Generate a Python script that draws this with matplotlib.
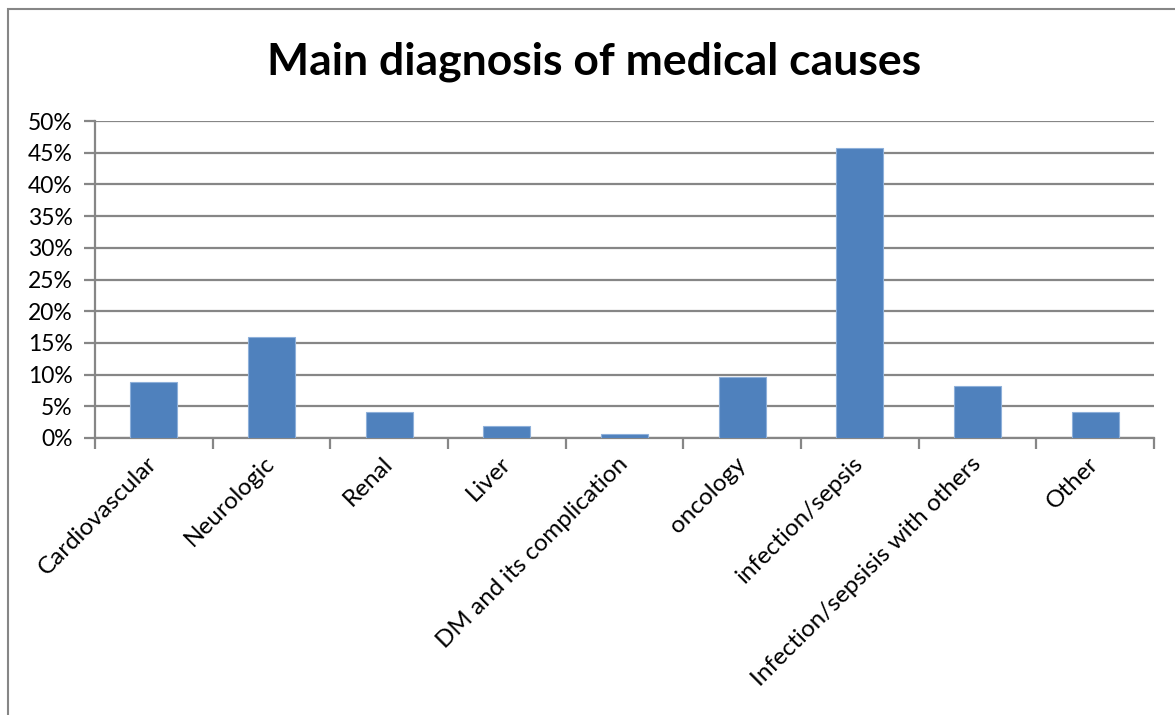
import matplotlib
matplotlib.use("Agg")
import matplotlib.pyplot as plt
from matplotlib.patches import Rectangle
from matplotlib.ticker import MultipleLocator, FuncFormatter

plt.rcParams["font.family"] = ["Lato", "DejaVu Sans"]

# Data (percent)
categories = [
    "Cardiovascular",
    "Neurologic",
    "Renal",
    "Liver",
    "DM and its complication",
    "oncology",
    "infection/sepsis",
    "Infection/sepsisis with others",
    "Other",
]
values = [8.9, 16.0, 4.15, 1.95, 0.6, 9.6, 45.7, 8.2, 4.1]

title = "Main diagnosis of medical causes"
bar_color = "#4F81BD"
grid_color = "#868686"

fig = plt.figure(figsize=(11.75, 7.15), dpi=100)
ax = fig.add_axes([95 / 1175, 1 - 438 / 715, (1154 - 95) / 1175, (438 - 121) / 715])

x = list(range(len(categories)))
ax.bar(x, values, width=0.4, color=bar_color, edgecolor="#8EB0DA", linewidth=0.8, zorder=3)

ax.set_xlim(-0.5, len(categories) - 0.5)
ax.set_ylim(0, 50)
ax.yaxis.set_major_locator(MultipleLocator(5))
ax.yaxis.set_major_formatter(FuncFormatter(lambda v, p: f"{v:.0f}%"))
ax.grid(axis="y", color=grid_color, linewidth=1.6, zorder=0)

# category boundary ticks
ax.set_xticks([i - 0.5 for i in range(len(categories) + 1)])
ax.set_xticklabels([])
ax.set_xticks(x, minor=True)
ax.set_xticklabels(categories, minor=True, rotation=45, ha="right",
                   va="center", rotation_mode="anchor", fontsize=17.5)
ax.tick_params(axis="x", which="minor", length=0, pad=16)
ax.tick_params(axis="x", which="major", length=8, width=1.6, color=grid_color)
ax.tick_params(axis="y", length=8, width=1.6, color=grid_color, labelsize=16.5, pad=8)

for side in ["top", "right"]:
    ax.spines[side].set_visible(False)
for side in ["left", "bottom"]:
    ax.spines[side].set_color(grid_color)
    ax.spines[side].set_linewidth(1.6)

fig.text(0.506, 0.913, title, ha="center", va="center",
         fontsize=32, fontweight="bold")

# outer chart border
fig.patches.append(Rectangle((8 / 1175, -0.05), 1.1, 1.05 - 9 / 715,
                             transform=fig.transFigure, fill=False,
                             edgecolor=grid_color, linewidth=1.5))

fig.savefig("out.png", dpi=100)
